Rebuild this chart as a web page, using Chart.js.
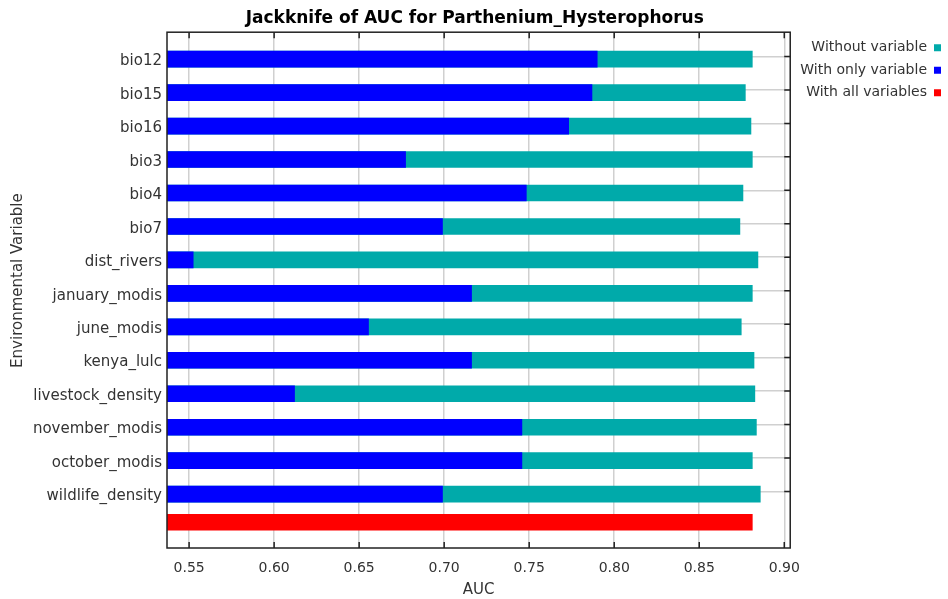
<!DOCTYPE html>
<html>
<head>
<meta charset="utf-8">
<script src="https://cdn.jsdelivr.net/npm/chart.js@4.4.0/dist/chart.umd.min.js"></script>
<style>
html,body{margin:0;padding:0;background:#fff;}
#wrap{width:948px;height:599px;}
</style>
</head>
<body>
<div id="wrap"><canvas id="c" width="948" height="599"></canvas></div>
<script>
// ---- data ----
const categories = ['bio12','bio15','bio16','bio3','bio4','bio7','dist_rivers','january_modis','june_modis','kenya_lulc','livestock_density','november_modis','october_modis','wildlife_density'];
const withoutVariable  = [0.8814,0.8773,0.8806,0.8814,0.8759,0.8741,0.8847,0.8814,0.8749,0.8824,0.8829,0.8838,0.8814,0.8861];
const withOnlyVariable = [0.7902,0.7871,0.7734,0.6775,0.7485,0.6992,0.5526,0.7163,0.6557,0.7163,0.6122,0.7459,0.7459,0.6992];
const withAllVariables = [0.8814];
const xTicks = [0.55,0.60,0.65,0.70,0.75,0.80,0.85,0.90];
const xMin = 0.537, xMax = 0.9035;

const FONT = 'DejaVu Sans';
Chart.defaults.font.family = FONT;

const rowOf = (vals, start) => vals.map((v, i) => ({x: v, y: start + i}));

const framePlugin = {
  id: 'frame',
  afterDatasetsDraw(chart) {
    const {ctx, chartArea: a, scales: {x, y}} = chart;
    ctx.save();
    ctx.strokeStyle = '#222';
    ctx.lineWidth = 1.5;
    ctx.strokeRect(a.left, a.top, a.right - a.left, a.bottom - a.top);
    ctx.beginPath();
    x.ticks.forEach(t => {
      const px = x.getPixelForValue(t.value);
      ctx.moveTo(px, a.top); ctx.lineTo(px, a.top + 6);
      ctx.moveTo(px, a.bottom); ctx.lineTo(px, a.bottom - 6);
    });
    y.ticks.forEach(t => {
      const py = y.getPixelForValue(t.value);
      ctx.moveTo(a.right, py); ctx.lineTo(a.right - 6, py);
    });
    ctx.stroke();
    ctx.restore();
  }
};

new Chart(document.getElementById('c'), {
  type: 'bar',
  data: {
    datasets: [
      { label: 'With all variables', data: rowOf(withAllVariables, categories.length), backgroundColor: '#FF0000', stack: 'all' },
      { label: 'With only variable', data: rowOf(withOnlyVariable, 0), backgroundColor: '#0000FF', stack: 'var' },
      { label: 'Without variable', data: rowOf(withoutVariable, 0), backgroundColor: '#00AAAA', stack: 'var' }
    ]
  },
  options: {
    indexAxis: 'y',
    responsive: false,
    animation: false,
    devicePixelRatio: 1,
    layout: { padding: { left: 0, right: -1.5, top: 0, bottom: 0 } },
    datasets: { bar: { categoryPercentage: 0.322, barPercentage: 3.09, borderWidth: 0, clip: 0 } },
    plugins: {
      title: {
        display: true,
        text: 'Jackknife of AUC for Parthenium_Hysterophorus',
        color: '#000',
        font: { family: FONT, size: 17, weight: 'bold' },
        padding: { top: 8, bottom: 3.8 }
      },
      legend: {
        position: 'right',
        align: 'start',
        fullSize: false,
        rtl: true,
        textDirection: 'ltr',
        labels: {
          boxWidth: 7, boxHeight: 7, padding: 8.5,
          color: '#333', textAlign: 'left',
          font: { family: FONT, size: 14 },
          sort: (a, b) => b.datasetIndex - a.datasetIndex
        }
      },
      tooltip: { enabled: false }
    },
    scales: {
      x: {
        type: 'linear', position: 'bottom', min: xMin, max: xMax, stacked: false,
        afterBuildTicks: s => { s.ticks = xTicks.map(v => ({ value: v })); },
        afterFit: s => { s.height = 51; },
        grid: { color: '#d0d0d0', lineWidth: 1.5, drawTicks: false },
        border: { display: false },
        ticks: { padding: 12, color: '#333', font: { family: FONT, size: 14 }, callback: v => Number(v).toFixed(2), autoSkip: false, maxRotation: 0 },
        title: { display: true, text: 'AUC', color: '#333', font: { family: FONT, size: 15 }, padding: { top: 4, bottom: 0 } }
      },
      y: {
        type: 'linear', position: 'left', reverse: true, min: -0.725, max: 14.69,
        offset: false,
        afterBuildTicks: s => { s.ticks = categories.map((c, i) => ({ value: i })); },
        afterFit: s => { s.width = 167; },
        grid: { color: '#d0d0d0', lineWidth: 1.5, drawTicks: false, offset: false },
        border: { display: false },
        ticks: { padding: 5, labelOffset: 5, color: '#333', font: { family: FONT, size: 15 }, autoSkip: false, callback: v => categories[v] ?? '' },
        title: { display: true, text: '\u00a0\u00a0\u00a0\u00a0Environmental Variable', color: '#333', font: { family: FONT, size: 15 }, padding: { top: 9, bottom: 0 } }
      }
    }
  },
  plugins: [framePlugin]
});
</script>
</body>
</html>
